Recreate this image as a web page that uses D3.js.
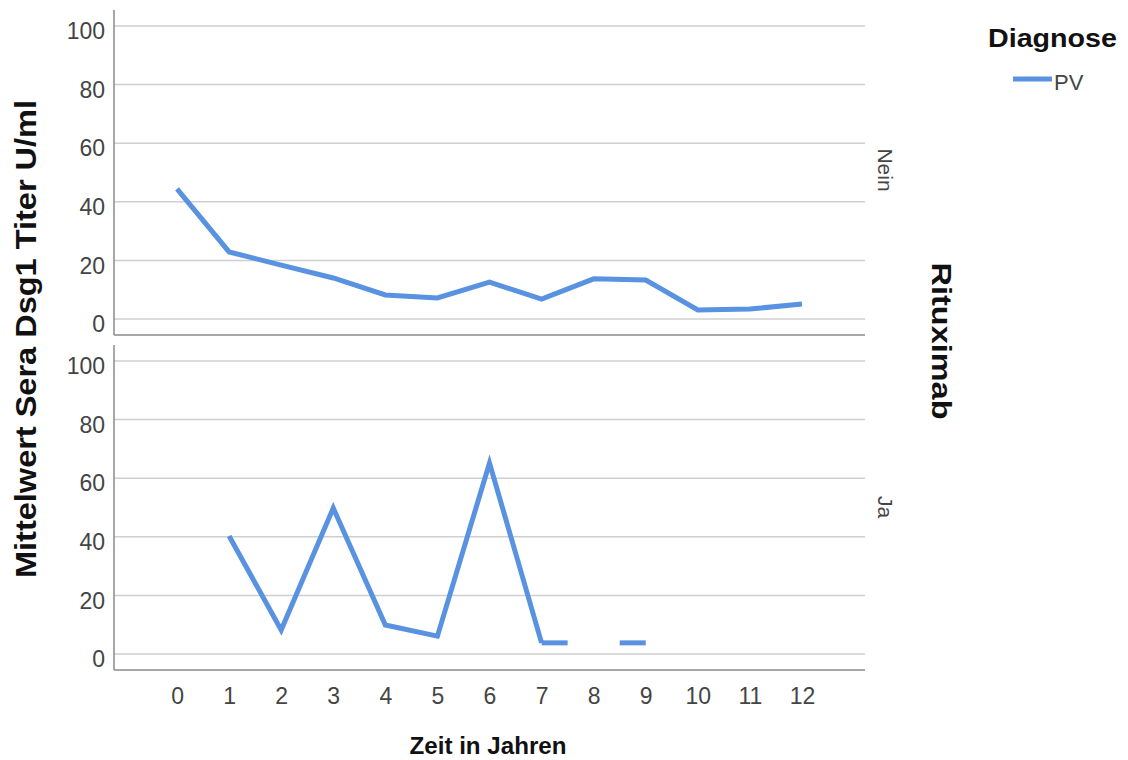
<!DOCTYPE html>
<html>
<head>
<meta charset="UTF-8">
<script src="https://d3js.org/d3.v7.min.js"></script>
<style>
  body { margin: 0; background: #fff; }
  text { font-family: "Liberation Sans", Arial, sans-serif; }
</style>
</head>
<body>
<div id="chart"></div>
<script>
// Zeit in Jahren
const years = [0, 1, 2, 3, 4, 5, 6, 7, 8, 9, 10, 11, 12];
// Rituximab = Nein
const neinValues = [44.4, 22.9, 18.4, 14.0, 8.2, 7.2, 12.6, 6.8, 13.7, 13.3, 3.1, 3.4, 5.1];
// Rituximab = Ja (null = kein Wert)
const jaValues = [null, 40.3, 8.2, 49.8, 9.9, 6.1, 65.2, 3.8, null, 3.8, null, null, null];
const yTicks = [0, 20, 40, 60, 80, 100];
const panelLabels = ["Nein", "Ja"];

const width = 1128, height = 760;
const left = 114, right = 865;
const lineColor = "#5892e0";
const tickColor = "#444";

const svg = d3.select("#chart").append("svg").attr("width", width).attr("height", height);

const x = d3.scaleLinear().domain([-1.21, 13.21]).range([left, right]);

const panels = [
  { label: panelLabels[0], values: neinValues, top: 10, bottom: 335, y0: 319, y100: 26, ly: 170 },
  { label: panelLabels[1], values: jaValues, top: 345, bottom: 670, y0: 654, y100: 361, ly: 507 }
];

panels.forEach(p => {
  const y = d3.scaleLinear().domain([0, 100]).range([p.y0, p.y100]);
  const g = svg.append("g");

  // gridlines
  g.selectAll("line.grid").data(yTicks).join("line")
    .attr("x1", left).attr("x2", right)
    .attr("y1", d => y(d)).attr("y2", d => y(d))
    .attr("stroke", "#cfcfcf").attr("stroke-width", 1.5);

  // y axis
  const yAxis = d3.axisLeft(y).tickValues(yTicks).tickSize(0).tickPadding(9);
  const ga = g.append("g").attr("transform", `translate(${left},0)`).call(yAxis);
  ga.select(".domain").remove();
  ga.selectAll("text").attr("font-size", 23).attr("fill", tickColor).attr("dy", "0.55em")
    .attr("font-family", "Liberation Sans, Arial, sans-serif");

  // frame: left and bottom
  g.append("line").attr("x1", left).attr("x2", left).attr("y1", p.top).attr("y2", p.bottom)
    .attr("stroke", "#8a8a8a").attr("stroke-width", 1.5);
  g.append("line").attr("x1", left).attr("x2", right).attr("y1", p.bottom).attr("y2", p.bottom)
    .attr("stroke", "#8a8a8a").attr("stroke-width", 1.5);

  // data line
  const pts = years.map((yr, i) => ({ yr, v: p.values[i] }));
  const line = d3.line().defined(d => d.v !== null).x(d => x(d.yr)).y(d => y(d.v));
  g.append("path").datum(pts).attr("d", line)
    .attr("fill", "none").attr("stroke", lineColor).attr("stroke-width", 5)
    .attr("stroke-linejoin", "miter");

  // half segments across gaps between defined points
  const defined = pts.filter(d => d.v !== null);
  for (let i = 0; i < defined.length - 1; i++) {
    const a = defined[i], b = defined[i + 1];
    if (b.yr - a.yr > 1) {
      const mid = t => a.v + (b.v - a.v) * (t - a.yr) / (b.yr - a.yr);
      [[a.yr, a.yr + 0.5], [b.yr - 0.5, b.yr]].forEach(([t1, t2]) => {
        g.append("line")
          .attr("x1", x(t1)).attr("x2", x(t2))
          .attr("y1", y(mid(t1))).attr("y2", y(mid(t2)))
          .attr("stroke", lineColor).attr("stroke-width", 5);
      });
    }
  }

  // panel label
  g.append("text")
    .attr("transform", `translate(878,${p.ly}) rotate(90)`)
    .attr("text-anchor", "middle")
    .attr("font-size", 21).attr("fill", tickColor)
    .text(p.label);
});

// x axis
const xAxis = d3.axisBottom(x).tickValues(years).tickSize(0).tickPadding(0);
const gx = svg.append("g").attr("transform", "translate(0,704)").call(xAxis);
gx.select(".domain").remove();
gx.selectAll("text").attr("font-size", 23).attr("fill", tickColor).attr("dy", null).attr("y", 0)
  .attr("font-family", "Liberation Sans, Arial, sans-serif");

// axis titles
svg.append("text").attr("x", 488).attr("y", 754)
  .attr("text-anchor", "middle").attr("font-size", 23).attr("font-weight", "bold")
  .attr("textLength", 157).attr("lengthAdjust", "spacingAndGlyphs")
  .attr("fill", "#111").text("Zeit in Jahren");

svg.append("text")
  .attr("transform", "translate(36,339) rotate(-90)")
  .attr("text-anchor", "middle").attr("font-size", 29).attr("font-weight", "bold")
  .attr("textLength", 478).attr("lengthAdjust", "spacingAndGlyphs")
  .attr("fill", "#111").text("Mittelwert Sera Dsg1 Titer U/ml");

svg.append("text")
  .attr("transform", "translate(932,341) rotate(90)")
  .attr("text-anchor", "middle").attr("font-size", 28).attr("font-weight", "bold")
  .attr("textLength", 157).attr("lengthAdjust", "spacingAndGlyphs")
  .attr("fill", "#111").text("Rituximab");

// legend
svg.append("text").attr("x", 988).attr("y", 47)
  .attr("font-size", 26).attr("font-weight", "bold")
  .attr("textLength", 129).attr("lengthAdjust", "spacingAndGlyphs")
  .attr("fill", "#111").text("Diagnose");
svg.append("line").attr("x1", 1013).attr("x2", 1052).attr("y1", 79).attr("y2", 79)
  .attr("stroke", lineColor).attr("stroke-width", 5);
svg.append("text").attr("x", 1054).attr("y", 90)
  .attr("font-size", 22).attr("fill", tickColor).text("PV");
</script>
</body>
</html>
